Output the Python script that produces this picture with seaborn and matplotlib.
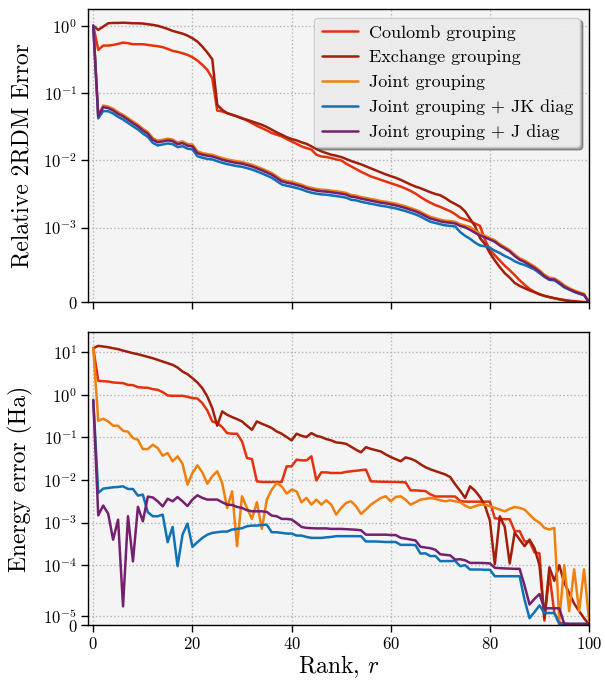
import numpy as np
import pandas as pd
import matplotlib
matplotlib.use("Agg")
import matplotlib.pyplot as plt
from matplotlib.lines import Line2D
from matplotlib.ticker import FixedLocator, FixedFormatter, NullLocator
import seaborn as sns

# ---------------------------------------------------------------- data
ranks = list(range(101))

methods = [
    "Coulomb grouping",
    "Exchange grouping",
    "Joint grouping",
    "Joint grouping + JK diag",
    "Joint grouping + J diag",
]
colors = ["#e4320d", "#a11f0a", "#f0800e", "#0f72b4", "#75206e"]

# Relative 2RDM error per rank
rdm_coulomb = [
    1.0, 0.438, 0.507, 0.507, 0.519, 0.537, 0.562, 0.55, 0.531, 0.531,
    0.531, 0.519, 0.507, 0.496, 0.48, 0.453, 0.423, 0.409, 0.39, 0.369,
    0.34, 0.304, 0.262, 0.221, 0.166, 0.055, 0.0532, 0.0502, 0.0475, 0.0449,
    0.0424, 0.0391, 0.0357, 0.0326, 0.0301, 0.0278, 0.0254, 0.024, 0.0227, 0.0207,
    0.0191, 0.0176, 0.0161, 0.0152, 0.0144, 0.0121, 0.0114, 0.0112, 0.0108, 0.0103,
    0.00998, 0.00891, 0.00813, 0.00741, 0.00676, 0.00624, 0.00575, 0.00543, 0.00513, 0.00484,
    0.00457, 0.00432, 0.00407, 0.0038, 0.00351, 0.0032, 0.00285, 0.00257, 0.00234, 0.00216,
    0.00203, 0.00188, 0.00175, 0.00158, 0.0014, 0.00132, 0.00124, 0.00115, 0.00106, 0.00084,
    0.0007, 0.00063, 0.00056, 0.00049, 0.00043, 0.000365, 0.000295, 0.000235, 0.00018, 0.00014,
    0.000105, 8.5e-5, 7.0e-5, 5.5e-5, 4.3e-5, 3.2e-5, 2.3e-5, 1.6e-5, 1.0e-5, 5e-6,
    0.0,
]
rdm_exchange = [
    1.0, 0.867, 0.97, 1.088, 1.10, 1.10, 1.11, 1.10, 1.088, 1.088,
    1.077, 1.053, 1.03, 0.997, 0.948, 0.897, 0.838, 0.80, 0.764, 0.714,
    0.652, 0.582, 0.49, 0.40, 0.318, 0.0668, 0.0563, 0.0502, 0.0475, 0.0449,
    0.0419, 0.040, 0.0378, 0.0357, 0.0337, 0.0312, 0.0285, 0.026, 0.024, 0.0221,
    0.0207, 0.0198, 0.0185, 0.0176, 0.0161, 0.0147, 0.0136, 0.0128, 0.0121, 0.0117,
    0.0112, 0.01047, 0.00977, 0.00923, 0.00871, 0.00813, 0.00759, 0.00708, 0.00661, 0.00617,
    0.00582, 0.0055, 0.00513, 0.00473, 0.00437, 0.00407, 0.00385, 0.00359, 0.00335, 0.00316,
    0.00302, 0.00275, 0.00245, 0.00224, 0.00204, 0.00174, 0.00135, 0.00105, 0.00086, 0.00078,
    0.00066, 0.00056, 0.00047, 0.00039, 0.00033, 0.00026, 0.00022, 0.00019, 0.00016, 0.000135,
    0.00011, 8.8e-5, 7.0e-5, 5.5e-5, 4.0e-5, 2.8e-5, 1.6e-5, 8e-6, 3e-6, 1e-6,
    0.0,
]
rdm_joint = [
    1.0, 0.0475, 0.0652, 0.063, 0.0583, 0.052, 0.0475, 0.0424, 0.0378, 0.0338,
    0.0295, 0.0263, 0.0214, 0.0196, 0.0202, 0.021, 0.0204, 0.0184, 0.0191, 0.0175,
    0.0171, 0.0136, 0.0128, 0.0124, 0.0121, 0.0114, 0.0108, 0.0103, 0.00998, 0.00965,
    0.00943, 0.009, 0.00859, 0.00806, 0.00753, 0.007, 0.00647, 0.00579, 0.00516, 0.00493,
    0.00477, 0.00456, 0.00435, 0.00407, 0.00389, 0.00375, 0.00367, 0.00363, 0.00354, 0.00347,
    0.00338, 0.00328, 0.00305, 0.00299, 0.00285, 0.00276, 0.00266, 0.00258, 0.00248, 0.00243,
    0.00234, 0.00227, 0.00216, 0.00207, 0.00195, 0.00184, 0.00172, 0.00157, 0.00144, 0.00138,
    0.00131, 0.00127, 0.00125, 0.00122, 0.00112, 0.00107, 0.00102, 0.00096, 0.00092, 0.00089,
    0.00086, 0.00083, 0.00078, 0.00074, 0.0007, 0.00064, 0.00059, 0.00056, 0.00052, 0.00048,
    0.00043, 0.00037, 0.00033, 0.00032, 0.00028, 0.00023, 0.00019, 0.00016, 0.000135, 0.000115,
    0.0,
]
rdm_jk_diag = [
    1.0, 0.042, 0.054, 0.0535, 0.0496, 0.0442, 0.0404, 0.036, 0.0321, 0.0287,
    0.025, 0.0223, 0.0182, 0.0166, 0.0172, 0.0178, 0.0174, 0.0157, 0.0162, 0.0149,
    0.0145, 0.0115, 0.0109, 0.0105, 0.0103, 0.0097, 0.0092, 0.00878, 0.00848, 0.00819,
    0.00801, 0.00765, 0.00729, 0.00684, 0.00639, 0.00594, 0.00549, 0.00491, 0.00438, 0.00419,
    0.00405, 0.00387, 0.00369, 0.00346, 0.0033, 0.00319, 0.00311, 0.00308, 0.00301, 0.00294,
    0.00287, 0.00278, 0.00259, 0.00254, 0.00242, 0.00234, 0.00226, 0.00219, 0.00211, 0.00206,
    0.00199, 0.00193, 0.00184, 0.00176, 0.00166, 0.00157, 0.00146, 0.00133, 0.00122, 0.00117,
    0.00112, 0.00108, 0.00106, 0.00104, 0.00094, 0.00089, 0.00085, 0.0008, 0.00076, 0.00075,
    0.00073, 0.00069, 0.00066, 0.00062, 0.00059, 0.00055, 0.00052, 0.0005, 0.00047, 0.00044,
    0.00039, 0.00034, 0.0003, 0.000295, 0.00025, 0.0002, 0.00017, 0.00014, 0.000115, 9.5e-5,
    0.0,
]
rdm_j_diag = [
    1.0, 0.045, 0.0617, 0.0596, 0.0551, 0.0491, 0.0449, 0.040, 0.0357, 0.0319,
    0.0278, 0.0248, 0.0202, 0.0185, 0.0191, 0.0198, 0.0193, 0.0174, 0.018, 0.0165,
    0.0161, 0.0128, 0.0121, 0.0117, 0.0114, 0.0108, 0.0102, 0.00975, 0.00942, 0.0091,
    0.0089, 0.0085, 0.0081, 0.0076, 0.0071, 0.0066, 0.0061, 0.00546, 0.00487, 0.00465,
    0.0045, 0.0043, 0.0041, 0.00384, 0.00367, 0.00354, 0.00346, 0.00342, 0.00334, 0.00327,
    0.00319, 0.00309, 0.00288, 0.00282, 0.00269, 0.0026, 0.00251, 0.00243, 0.00234, 0.00229,
    0.00221, 0.00214, 0.00204, 0.00195, 0.00184, 0.00174, 0.00162, 0.00148, 0.00136, 0.0013,
    0.00124, 0.0012, 0.00118, 0.00115, 0.00106, 0.00101, 0.00097, 0.00093, 0.000895, 0.00087,
    0.00084, 0.00081, 0.00076, 0.00072, 0.00068, 0.00062, 0.00057, 0.00054, 0.0005, 0.00046,
    0.00041, 0.00035, 0.00031, 0.000305, 0.00026, 0.00021, 0.000175, 0.000145, 0.00012, 0.0001,
    0.0,
]

# Absolute energy error (Ha) per rank
energy_coulomb = [
    12.4, 2.13, 2.09, 2.05, 1.95, 1.91, 1.88, 1.71, 1.69, 1.51,
    1.48, 1.46, 1.36, 1.31, 1.155, 0.965, 0.948, 0.948, 0.948, 0.898,
    0.835, 0.82, 0.638, 0.43, 0.237, 0.217, 0.175, 0.126, 0.122, 0.122,
    0.0806, 0.0328, 0.031, 0.0093, 0.00898, 0.00898, 0.00898, 0.00898, 0.00898, 0.0209,
    0.0209, 0.030, 0.0289, 0.0289, 0.0359, 0.0098, 0.0151, 0.0151, 0.0146, 0.0146,
    0.0146, 0.0155, 0.016, 0.0165, 0.017, 0.0175, 0.0093, 0.0092, 0.0091, 0.0091,
    0.009, 0.009, 0.0089, 0.0088, 0.0057, 0.0057, 0.0056, 0.0055, 0.0046, 0.0041,
    0.0041, 0.0041, 0.0041, 0.0041, 0.0032, 0.0031, 0.0031, 0.0031, 0.0031, 0.0031,
    0.0031, 0.00126, 0.00123, 0.0012, 0.0012, 0.00063, 0.00063, 0.00036, 0.00036, 0.0002,
    0.00019, 5e-6, 6.3e-5, 1.3e-5, 3e-6, 2e-6, 1e-6, 1e-6, 1e-6, 1e-6,
    1e-6,
]
energy_exchange = [
    12.4, 14.1, 13.6, 13.1, 12.4, 11.8, 10.9, 10.2, 9.48, 8.98,
    8.35, 7.78, 7.23, 6.61, 6.04, 5.52, 5.05, 4.37, 3.52, 3.05,
    2.46, 1.95, 1.43, 0.914, 0.487, 0.188, 0.407, 0.34, 0.30, 0.269,
    0.237, 0.188, 0.151, 0.237, 0.209, 0.188, 0.166, 0.138, 0.122, 0.102,
    0.0851, 0.122, 0.109, 0.102, 0.126, 0.109, 0.102, 0.0914, 0.0851, 0.0763,
    0.0741, 0.0708, 0.0603, 0.0513, 0.0447, 0.0589, 0.0537, 0.0501, 0.0468, 0.0398,
    0.0347, 0.0309, 0.0275, 0.0339, 0.0316, 0.0282, 0.0234, 0.020, 0.0178, 0.0162,
    0.0148, 0.0135, 0.0117, 0.0079, 0.0056, 0.0038, 0.0071, 0.0056, 0.004, 0.0025,
    0.00112, 0.000105, 0.0014, 0.00079, 0.00011, 0.00058, 0.0004, 0.00028, 0.0004, 0.00025,
    0.0001, 7.5e-6, 8.9e-5, 4.7e-5, 1.0e-4, 4.5e-5, 3.4e-5, 2.3e-5, 1.5e-5, 7.5e-6,
    1e-6,
]
energy_joint = [
    12.4, 0.246, 0.274, 0.237, 0.188, 0.188, 0.143, 0.136, 0.0965, 0.0881,
    0.0533, 0.0533, 0.0673, 0.0562, 0.0372, 0.043, 0.0274, 0.0359, 0.0241, 0.00778,
    0.0146, 0.0221, 0.0151, 0.0082, 0.0122, 0.016, 0.0085, 0.00221, 0.00542, 0.000279,
    0.00414, 0.00221, 0.00122, 0.003, 0.00071, 0.00346, 0.00593, 0.0085, 0.0071, 0.00479,
    0.00593, 0.00542, 0.003, 0.00379, 0.00264, 0.00346, 0.00264, 0.00334, 0.00264, 0.00154,
    0.00221, 0.00289, 0.00316, 0.00242, 0.0016, 0.00202, 0.00264, 0.00316, 0.00379, 0.00414,
    0.00316, 0.004, 0.00414, 0.00346, 0.00264, 0.003, 0.00346, 0.00359, 0.00379, 0.00359,
    0.00334, 0.00316, 0.00334, 0.00316, 0.003, 0.00251, 0.00221, 0.00242, 0.00264, 0.00264,
    0.00242, 0.00221, 0.00202, 0.00184, 0.0021, 0.00233, 0.00221, 0.00202, 0.00154, 0.00118,
    0.001, 0.00075, 0.00069, 0.00075, 5e-6, 1.0e-4, 1.5e-5, 8e-5, 1.5e-5, 8e-5,
    5e-6,
]
energy_jk_diag = [
    0.764, 0.00496, 0.00626, 0.0065, 0.00673, 0.00686, 0.0071, 0.00615, 0.00615, 0.0043,
    0.00453, 0.00175, 0.00141, 0.00141, 0.00154, 0.000346, 0.00079, 9.5e-5, 0.00052, 0.00095,
    0.000269, 0.000346, 0.000437, 0.00052, 0.000573, 0.000593, 0.000615, 0.000615, 0.000686, 0.00071,
    0.000737, 0.00082, 0.00085, 0.00085, 0.00088, 0.00089, 0.000593, 0.000593, 0.000573, 0.000552,
    0.000552, 0.000496, 0.000496, 0.000461, 0.000437, 0.000437, 0.000437, 0.00045, 0.00046, 0.00048,
    0.00048, 0.00048, 0.00048, 0.00048, 0.00048, 0.00036, 0.00036, 0.00036, 0.000355, 0.00035,
    0.00035, 0.00035, 0.0003, 0.0003, 0.0003, 0.000295, 0.000187, 0.00019, 0.000163, 0.000165,
    0.000124, 0.000125, 0.000125, 0.000126, 9.5e-5, 0.0001, 7.9e-5, 7.9e-5, 7.9e-5, 7.8e-5,
    7.8e-5, 5.5e-5, 5.5e-5, 5.5e-5, 5.5e-5, 5.5e-5, 5.5e-5, 2.7e-5, 7.5e-6, 1.4e-5,
    2.1e-5, 1.3e-5, 1.3e-5, 1.3e-5, 1.5e-6, 1.5e-6, 1.5e-6, 1.5e-6, 1.5e-6, 1.5e-6,
    1.5e-6,
]
energy_j_diag = [
    0.74, 0.00148, 0.00251, 0.00162, 0.000398, 0.00117, 2.0e-5, 0.00141, 0.000123, 0.00234,
    0.00107, 0.00407, 0.00389, 0.00316, 0.0024, 0.00363, 0.00316, 0.00398, 0.00316, 0.00245,
    0.00347, 0.00437, 0.0038, 0.00347, 0.00347, 0.00347, 0.003, 0.00264, 0.00259, 0.00233,
    0.00221, 0.00195, 0.00184, 0.00184, 0.00184, 0.00178, 0.00146, 0.00141, 0.00122, 0.00122,
    0.00118, 0.00098, 0.00079, 0.00075, 0.00074, 0.00073, 0.00073, 0.00073, 0.00071, 0.00071,
    0.00071, 0.0007, 0.00069, 0.00068, 0.00066, 0.00052, 0.00052, 0.00052, 0.00052, 0.00052,
    0.00051, 0.00051, 0.00044, 0.00042, 0.0004, 0.00038, 0.00027, 0.00026, 0.00025, 0.00023,
    0.00018, 0.000175, 0.00017, 0.000135, 0.000138, 0.00013, 0.000113, 0.000113, 0.000113, 0.000112,
    0.00011, 8.7e-5, 8.5e-5, 8.4e-5, 8.3e-5, 8.2e-5, 8.2e-5, 4.2e-5, 2.2e-5, 2.8e-5,
    3.3e-5, 1.8e-5, 1.8e-5, 1.8e-5, 1.8e-5, 1.5e-6, 1.5e-6, 1.5e-6, 1.5e-6, 1.5e-6,
    1.5e-6,
]

rdm_series = [rdm_coulomb, rdm_exchange, rdm_joint, rdm_jk_diag, rdm_j_diag]
energy_series = [energy_coulomb, energy_exchange, energy_joint, energy_jk_diag, energy_j_diag]


def long_frame(series):
    frames = []
    for name, vals in zip(methods, series):
        frames.append(pd.DataFrame({"rank": ranks, "value": vals, "method": name}))
    return pd.concat(frames, ignore_index=True)


rdm_df = long_frame(rdm_series)
energy_df = long_frame(energy_series)

# ---------------------------------------------------------------- style
sns.set_theme(style="ticks")
plt.rcParams.update({
    "font.family": "serif",
    "font.serif": ["cmr10"],
    "mathtext.fontset": "cm",
    "axes.formatter.use_mathtext": True,
    "axes.unicode_minus": False,
    "axes.edgecolor": "black",
    "axes.linewidth": 1.0,
    "xtick.color": "black",
    "ytick.color": "black",
    "text.color": "black",
    "axes.labelcolor": "black",
})

palette = dict(zip(methods, colors))

fig = plt.figure(figsize=(6.05, 6.82), dpi=100)
ax_top = fig.add_axes([0.146, 0.5567, 0.8276, 0.4305])
ax_bot = fig.add_axes([0.146, 0.0831, 0.8276, 0.4297], sharex=ax_top)

for ax, df in ((ax_top, rdm_df), (ax_bot, energy_df)):
    sns.lineplot(
        data=df, x="rank", y="value", hue="method", hue_order=methods,
        palette=palette, estimator=None, errorbar=None, sort=False,
        linewidth=1.8, legend=False, ax=ax,
    )
    ax.set_facecolor("#f4f4f4")
    ax.set_axisbelow(True)
    ax.grid(True, which="major", linestyle=":", color="#b3b3b3", linewidth=1.0)
    ax.tick_params(axis="both", which="major", direction="out", length=5,
                   width=1.0, labelsize=12, pad=3)
    ax.set_xlabel("")
    for sp in ax.spines.values():
        sp.set_visible(True)
        sp.set_color("black")
        sp.set_linewidth(1.0)

# upper panel: symmetric log axis with a linear part below 1e-3
ax_top.set_yscale("symlog", linthresh=1e-3, linscale=1.0)
top_ticks = [0, 1e-3, 1e-2, 1e-1, 1]
top_labels = ["$0$", "$10^{-3}$", "$10^{-2}$", "$10^{-1}$", "$10^{0}$"]
ax_top.yaxis.set_major_locator(FixedLocator(top_ticks))
ax_top.yaxis.set_major_formatter(FixedFormatter(top_labels))
ax_top.yaxis.set_minor_locator(NullLocator())
ax_top.set_ylim(0, 1.79)
ax_top.set_ylabel("Relative 2RDM Error", fontsize=17)
plt.setp(ax_top.get_xticklabels(), visible=False)

# lower panel: symmetric log axis with a linear part below 5e-5
ax_bot.set_yscale("symlog", linthresh=5e-5, linscale=1.0)
bot_ticks = [0, 1e-5, 1e-4, 1e-3, 1e-2, 1e-1, 1, 10]
bot_labels = ["$0$", "$10^{-5}$", "$10^{-4}$", "$10^{-3}$", "$10^{-2}$",
              "$10^{-1}$", "$10^{0}$", "$10^{1}$"]
ax_bot.yaxis.set_major_locator(FixedLocator(bot_ticks))
ax_bot.yaxis.set_major_formatter(FixedFormatter(bot_labels))
ax_bot.yaxis.set_minor_locator(NullLocator())
ax_bot.set_ylim(0, 29.4)
ax_bot.set_ylabel("Energy error (Ha)", fontsize=17)
ax_bot.set_xlabel(r"Rank, $r$", fontsize=17, labelpad=1)

ax_bot.set_xlim(-1, 100)
ax_bot.xaxis.set_major_locator(FixedLocator([0, 20, 40, 60, 80, 100]))
ax_bot.xaxis.set_minor_locator(NullLocator())

for ax in (ax_top, ax_bot):
    ax.yaxis.set_label_coords(-0.11, 0.5)

handles = [Line2D([0], [0], color=c, linewidth=1.8) for c in colors]
leg = ax_top.legend(
    handles, methods, loc="upper right", fontsize=13, frameon=True,
    fancybox=True, shadow=True, facecolor="#f4f4f4", edgecolor="#c8c8c8",
    framealpha=0.9, borderaxespad=0.5, labelspacing=0.5,
    handlelength=2.0, handletextpad=0.6, borderpad=0.4,
)

fig.savefig("out.png", dpi=100)
